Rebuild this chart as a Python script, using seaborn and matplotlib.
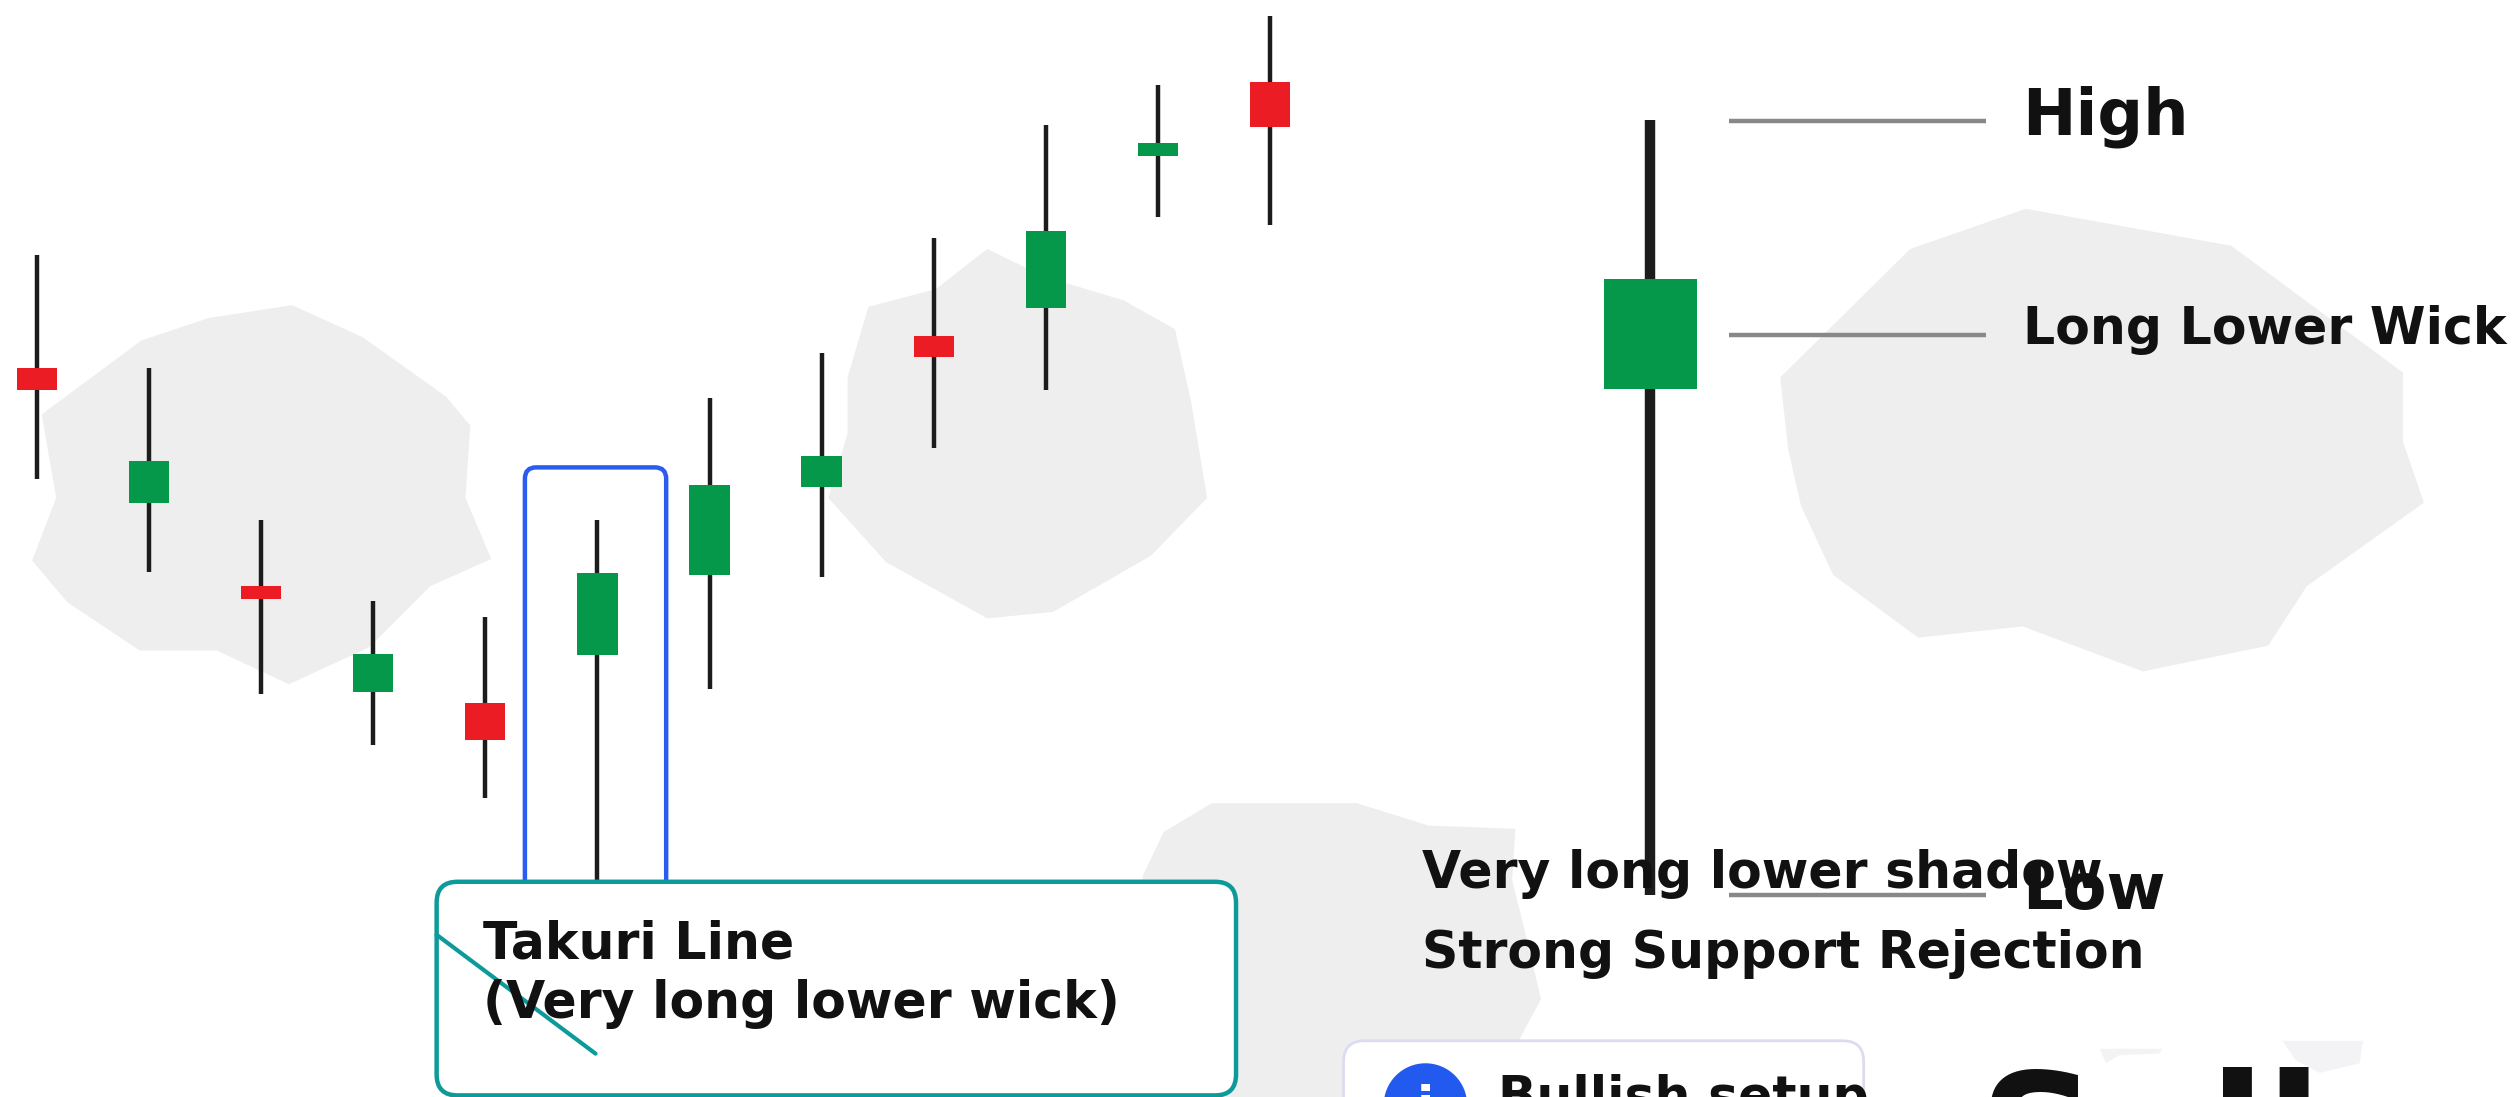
import numpy as np
import pandas as pd
import matplotlib
matplotlib.use("Agg")
import matplotlib.pyplot as plt
from matplotlib.patches import FancyBboxPatch, Polygon, Circle
import seaborn as sns

W, H = 2517, 1097

# candle values, read in the price scale (price = height above the image bottom, shrunk px)
highs  = [524, 454, 359, 309, 299, 359, 435, 463, 535, 605, 630, 673]
lows   = [385, 327, 251, 219, 186, 120, 254, 324, 404, 440, 548, 543]
opens  = [440, 370, 310, 252, 222, 275, 325, 380, 461, 491, 586, 604]
closes = [454, 396, 318, 276, 245, 326, 381, 399, 474, 539, 594, 632]
kinds  = ["bear", "bull", "bear", "bull", "bear", "bull", "bull", "bull", "bear", "bull", "bull", "bear"]
big_high, big_low, big_open, big_close = 608, 126, 441, 509

blob_a = [(26,258),(88,212),(130,198),(182,190),(226,210),(278,247),(293,265),(290,310),(306,348),(268,365),(230,403),(180,426),(135,405),(87,405),(42,375),(20,349),(35,310)]
blob_b = [(541,191),(583,180),(615,155),(650,172),(700,187),(732,205),(742,250),(752,310),(717,346),(656,381),(615,385),(552,350),(516,310),(528,270),(528,235)]
blob_c = [(1190,155),(1262,130),(1390,153),(1497,232),(1497,275),(1510,313),(1437,365),(1413,402),(1335,418),(1260,390),(1195,397),(1142,358),(1122,315),(1114,280),(1109,235)]
blob_d = [(725,518),(755,500),(845,500),(890,514),(944,516),(942,548),(950,580),(960,622),(945,650),(935,683),(690,683),(712,545)]
smudge_a = [(1308,653),(1347,653),(1345,656),(1320,657),(1312,662)]
smudge_b = [(1422,648),(1472,648),(1470,662),(1445,668),(1430,660)]

sns.set_theme(style="white")
plt.rcParams["font.family"] = ["DejaVu Sans"]
TXT = "#111111"; GREEN = "#05984a"; RED = "#ec1c24"; WICK = "#1c1c1c"; TEAL = "#0d9a9a"

fig = plt.figure(figsize=(W / 100, H / 100), dpi=100, facecolor="white")

def layer(z):
    ax = fig.add_axes([0, 0, 1, 1], zorder=z)
    ax.set_axis_off()
    ax.patch.set_alpha(0)
    return ax

# layer in shrunk-image pixels
bg = layer(0); bg.set_xlim(0, 1568); bg.set_ylim(683, 0)
for b in (blob_a, blob_b, blob_c, blob_d):
    bg.add_patch(Polygon(b, closed=True, fc="#eeeeee", ec="none"))
for b in (smudge_a, smudge_b):
    bg.add_patch(Polygon(b, closed=True, fc="#f3f3f5", ec="none"))

# candles: index on x, price on y
ax = layer(1)
x0, step = 23.2, 69.8
body = 25 / step
idx = np.arange(len(highs))
df = pd.DataFrame({"i": idx, "o": opens, "c": closes, "h": highs, "l": lows, "k": kinds})
df["size"] = df.c - df.o
for i, r in df.iterrows():
    ax.plot([r.i, r.i], [r.l, r.h], color=WICK, lw=3.2, solid_capstyle="butt", zorder=1)
for kind, col in (("bull", GREEN), ("bear", RED)):
    sub = df[df.k == kind]
    gap = np.diff(sub.i).min()          # seaborn scales width by the smallest x spacing
    sns.barplot(data=sub, x="i", y="size", bottom=sub.o, native_scale=True, width=body / gap,
                color=col, saturation=1, ax=ax, zorder=2, linewidth=0)
ax.set_xlim(-x0 / step, (1568 - x0) / step)
ax.set_ylim(0, 683)
ax.set_axis_off()
bx = (1028 - x0) / step
ax.plot([bx, bx], [big_low, big_high], color=WICK, lw=7.5, solid_capstyle="butt", zorder=1)
ax.bar([bx], [big_close - big_open], bottom=[big_open], width=58 / step, color=GREEN, zorder=2, linewidth=0)

# annotations
an = layer(2); an.set_xlim(0, 1568); an.set_ylim(683, 0)
an.add_patch(FancyBboxPatch((327, 291), 88, 300, boxstyle="round,pad=0,rounding_size=7",
                            fc="none", ec="#2b5cf0", lw=3.2, zorder=1))
for y in (75.5, 208.5, 557):
    an.plot([1077, 1237], [y, y], color="#888888", lw=3.2, solid_capstyle="butt", zorder=4)
an.add_patch(FancyBboxPatch((272, 549), 498, 133, boxstyle="round,pad=0,rounding_size=13",
                            fc="white", ec=TEAL, lw=3.2, zorder=2))
an.plot([272, 371], [582, 656], color=TEAL, lw=3, zorder=3)
def t(x, y, s, fs, **kw):
    return an.text(x, y, s, fontsize=fs, fontweight="bold", color=TXT, va="baseline", ha="left", zorder=5, **kw)
t(301, 597, "Takuri Line", 36.4)
t(301, 634, "(Very long lower wick)", 36.4)
t(886, 553, "Very long lower shadow", 36.4)
t(886, 602.5, "Strong Support Rejection", 36.4)
t(1260, 84, "High", 46)
t(1260, 214, "Long Lower Wick", 36.4)
t(1260, 566, "Low", 46)

an.add_patch(FancyBboxPatch((837, 648), 324, 80, boxstyle="round,pad=0,rounding_size=13",
                            fc="white", ec="#dcdcf0", lw=2, zorder=2))
an.add_patch(Circle((888, 688), 26, fc="#2259ee", ec="none", zorder=3))
an.text(888, 690, "i", fontsize=36, fontweight="bold", color="white", ha="center", va="center", zorder=4)
t(933, 693, "Bullish setup", 36.4)
t(1232, 743, "Sell", 119)

fig.savefig("out.png", dpi=100, facecolor="white")
